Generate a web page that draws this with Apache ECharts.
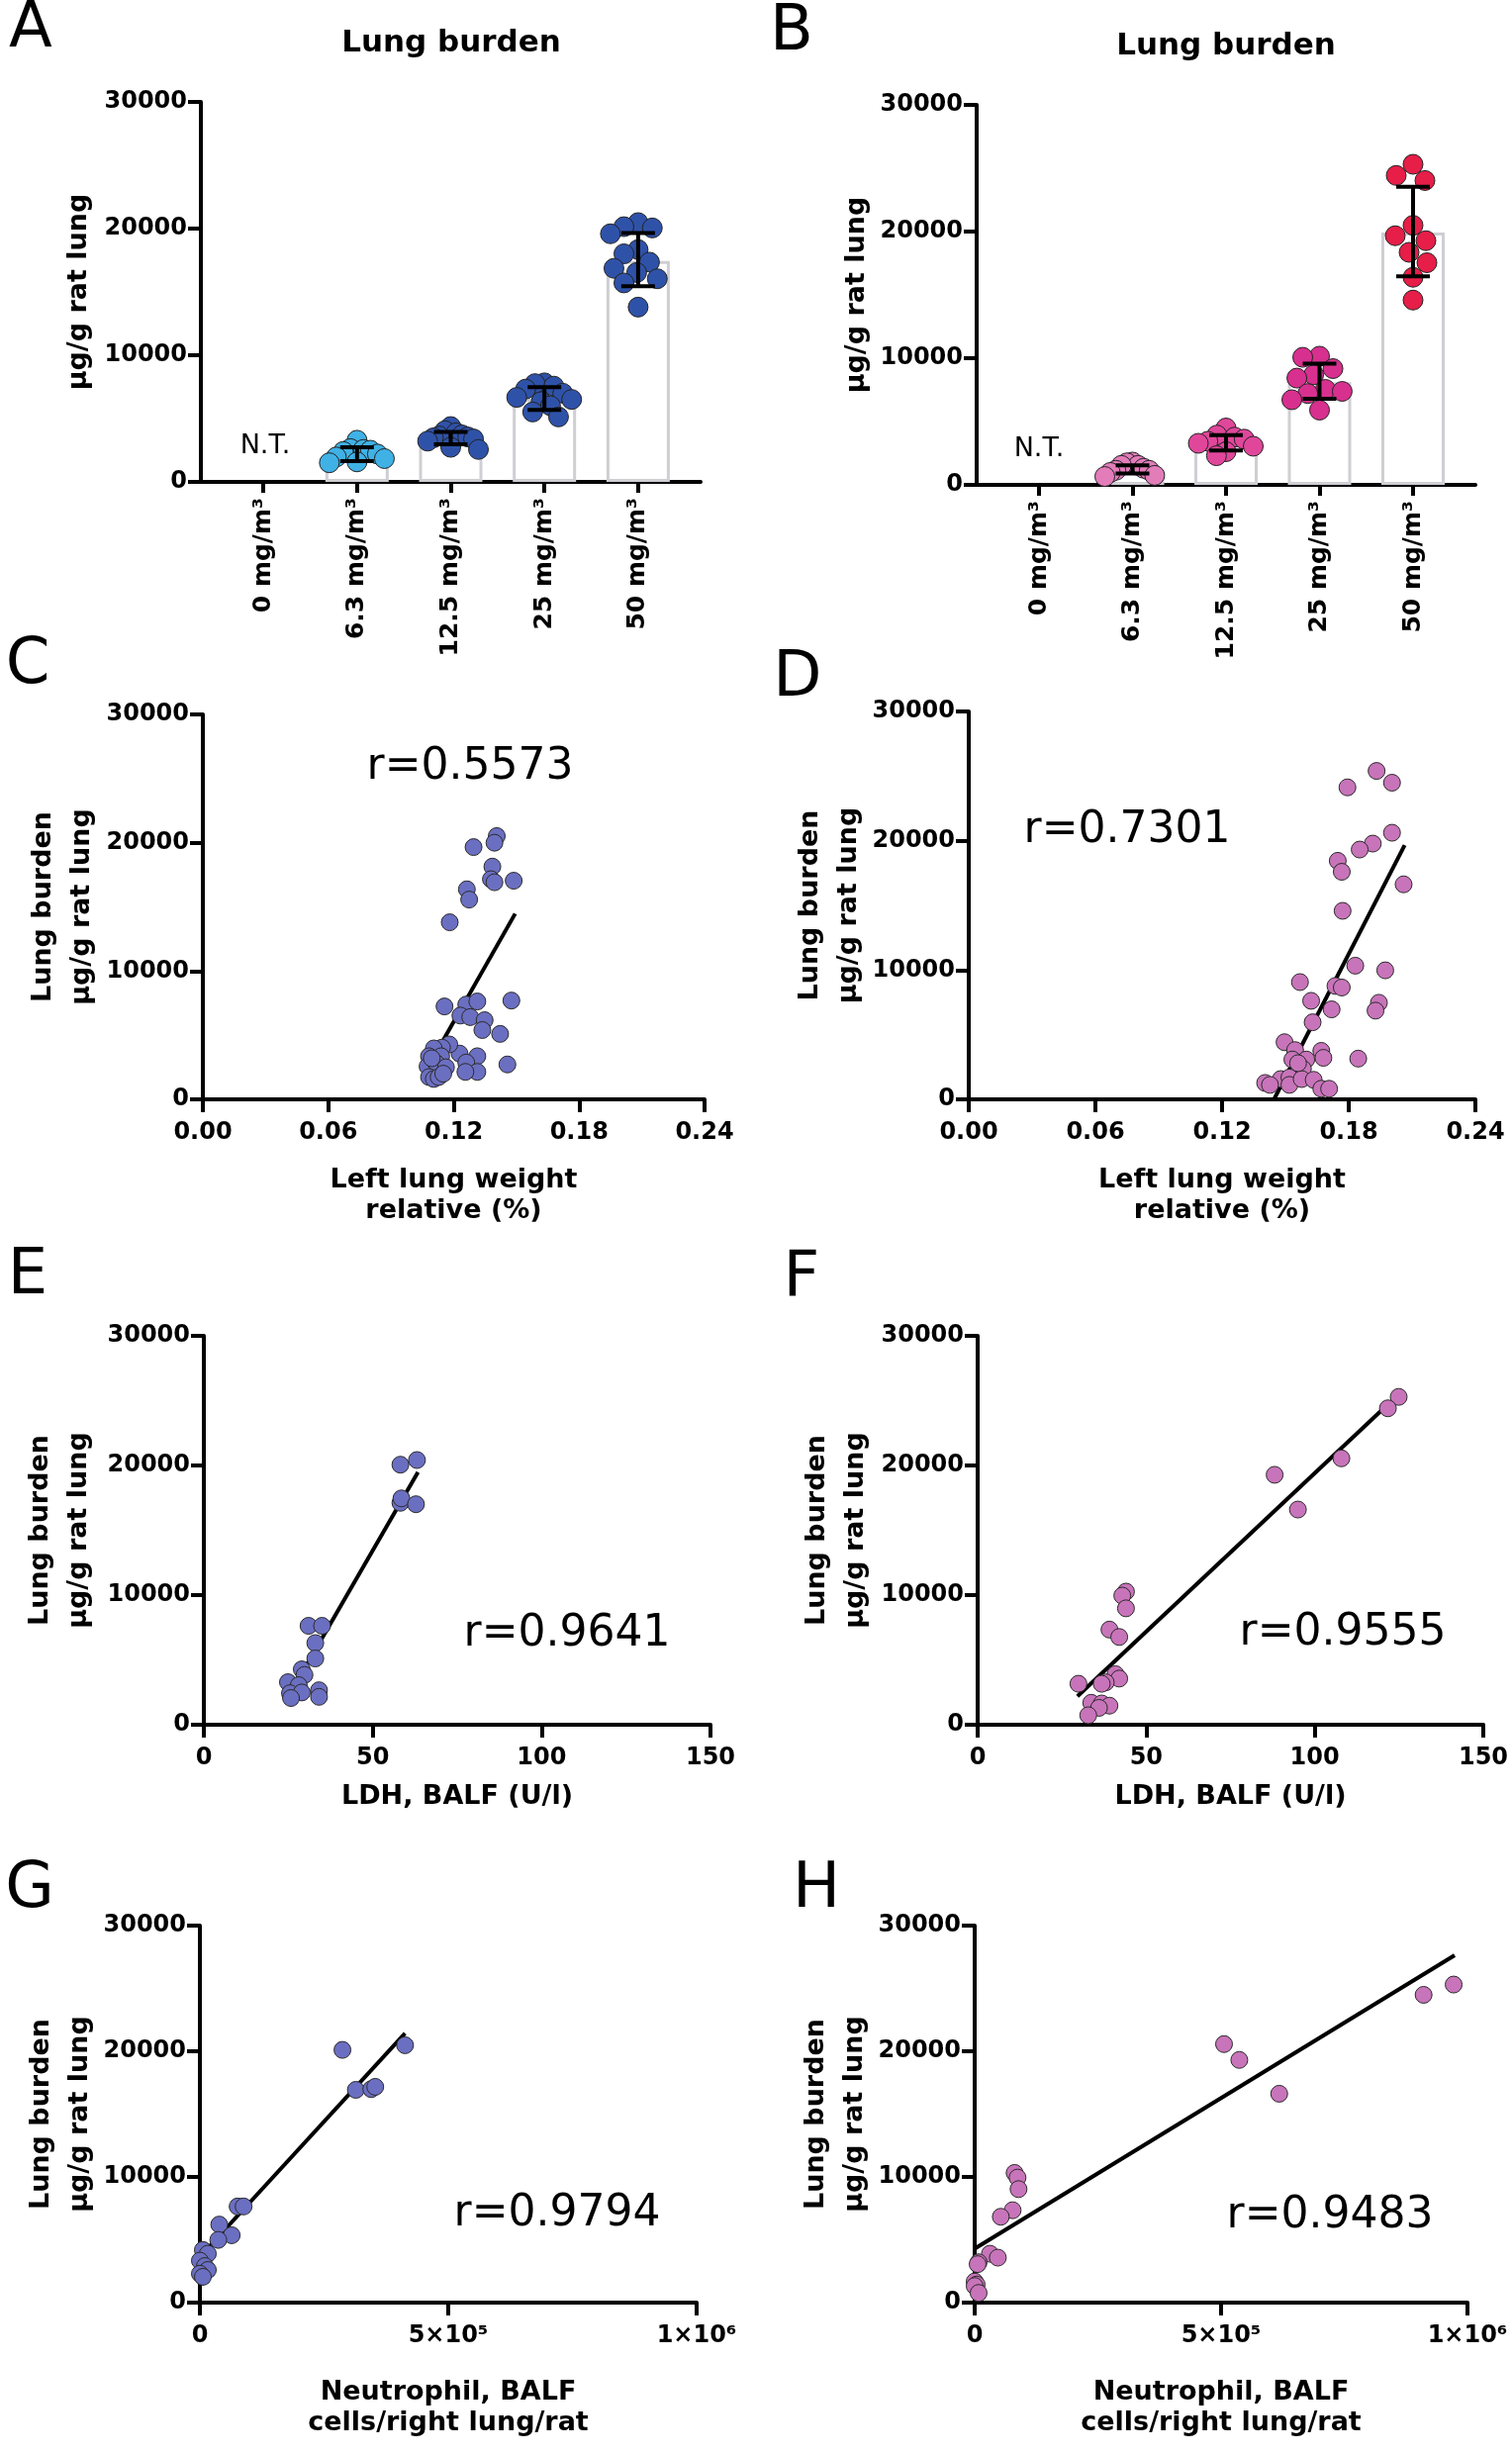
<!DOCTYPE html>
<html><head><meta charset="utf-8">
<script src="https://cdn.jsdelivr.net/npm/echarts@6/dist/echarts.min.js"></script>
<style>html,body{margin:0;padding:0;background:#fff}#c{width:1528px;height:2480px}</style>
</head><body><div id="c"></div>
<script>
// ---------------- DATA ----------------
const doseCategories = ['0 mg/m³', '6.3 mg/m³', '12.5 mg/m³', '25 mg/m³', '50 mg/m³'];
const yTickValues = [0, 10000, 20000, 30000];

// Panel A (bars = mean, error = SD range)
const aMeans   = [null, 2070, 3385, 6570, 17450];
const aErrLow  = [null, 1640, 2960, 5690, 15450];
const aErrHigh = [null, 2730, 3940, 7490, 19650];
const aDose0   = [];
const aDose6   = [3290, 2630, 2560, 2500, 2400, 2200, 1970, 1840, 1580, 1510];
const aDose12  = [4370, 4040, 3880, 3710, 3620, 3550, 3480, 3390, 3220, 2730, 2560];
const aDose25  = [7820, 7760, 7560, 7330, 7000, 6670, 6510, 6340, 6010, 5520, 5130];
const aDose50  = [20470, 20150, 20050, 19590, 18340, 18010, 17350, 16860, 16530, 16040, 15710, 13800];

// Panel B
const bMeans   = [null, 1210, 3180, 8100, 19930];
const bErrLow  = [null, 890, 2720, 6790, 16460];
const bErrHigh = [null, 1540, 3930, 9570, 23540];
const bDose0   = [];
const bDose6   = [1800, 1740, 1540, 1540, 1310, 1150, 1150, 980, 750, 660];
const bDose12  = [4490, 3930, 3770, 3610, 3440, 3280, 3050, 2620, 2300];
const bDose25  = [10160, 10070, 9180, 8690, 8430, 7540, 7380, 7210, 6720, 5900];
const bDose50  = [25310, 24430, 24030, 20490, 19670, 19280, 18360, 17540, 16390, 14590];

// Panel C: [left lung weight relative (%), lung burden]
const cPoints = [[0.1406,20520],[0.1395,20000],[0.1295,19660],[0.1385,18140],[0.1378,17160],[0.1395,16920],[0.1487,17040],[0.1263,16370],[0.1274,15570],[0.1181,13800],[0.1156,7240],[0.1260,7390],[0.1313,7630],[0.1476,7700],[0.1232,6530],[0.1279,6410],[0.1348,6170],[0.1337,5400],[0.1422,5100],[0.1457,2720],[0.1313,3360],[0.1228,3570],[0.1260,2870],[0.1313,2140],[0.1256,2140],[0.1179,4280],[0.1144,4030],[0.1105,3970],[0.1082,3360],[0.1140,3360],[0.1075,2570],[0.1117,2810],[0.1163,2500],[0.1082,1740],[0.1105,1590],[0.1128,1740],[0.1095,3200],[0.1150,2000]];
const cFit = [[0.1075, 2460], [0.1494, 14470]];
const cR = 'r=0.5573';

// Panel D
const dPoints = [[0.1932,25400],[0.2005,24490],[0.1794,24130],[0.2005,20620],[0.1914,19780],[0.1852,19320],[0.1748,18450],[0.1767,17600],[0.2060,16630],[0.1771,14580],[0.1831,10340],[0.1973,9980],[0.1737,8770],[0.1767,8650],[0.1569,9070],[0.1622,7620],[0.1719,6960],[0.1943,7470],[0.1927,6860],[0.1629,5960],[0.1496,4420],[0.1546,3810],[0.1533,3080],[0.1599,3080],[0.1670,3750],[0.1680,3210],[0.1845,3150],[0.1583,2360],[0.1478,1570],[0.1519,1690],[0.1404,1270],[0.1427,1120],[0.1519,1120],[0.1577,1570],[0.1634,1510],[0.1670,820],[0.1707,820],[0.1560,2800]];
const dFit = [[0.1446, 0], [0.2065, 19660]];
const dR = 'r=0.7301';

// Panel E: [LDH BALF (U/l), lung burden]
const ePoints = [[63.1,20420],[58.2,20060],[58.2,17120],[58.5,17460],[62.8,17010],[31.0,7630],[35.0,7630],[33.0,6300],[33.0,5110],[29.0,4270],[29.8,3840],[24.9,3280],[28.1,3050],[25.5,2430],[29.0,2490],[34.1,2660],[34.1,2150],[25.8,2060]];
const eFit = [[30.1, 4460], [63.4, 19490]];
const eR = 'r=0.9641';

// Panel F
const fPoints = [[124.9,25290],[121.7,24410],[107.9,20550],[88.1,19280],[95.0,16600],[44.0,10270],[42.9,9960],[44.0,8980],[39.1,7340],[42.0,6770],[40.9,3900],[42.0,3560],[38.0,3270],[36.8,3160],[29.9,3160],[33.7,1690],[36.8,1640],[39.1,1470],[36.0,1300],[32.8,730]];
const fFit = [[29.6, 2200], [121.7, 24710]];
const fR = 'r=0.9555';

// Panel G: [neutrophils BALF, lung burden]
const gPoints = [[413000,20480],[287000,20110],[314000,16930],[345000,16990],[353000,17170],[76000,7650],[88000,7650],[39000,6210],[64000,5360],[37000,4990],[6000,4190],[16000,3890],[0,3340],[10000,2910],[16000,2600],[0,2300],[6000,2050]];
const gFit = [[0, 3640], [413000, 21430]];
const gR = 'r=0.9794';

// Panel H
const hPoints = [[972000,25310],[911000,24490],[506000,20570],[537000,19310],[618000,16620],[81000,10320],[87000,9950],[89000,9030],[77000,7350],[53000,6830],[31000,3890],[47000,3580],[8000,3210],[6000,3060],[0,1680],[4000,1440],[0,1320],[8000,770]];
const hFit = [[0, 4290], [974000, 27640]];
const hR = 'r=0.9483';

const leftLungTicks = [0, 0.06, 0.12, 0.18, 0.24];
const ldhTicks = [0, 50, 100, 150];
const neutroTickLabels = {0: '0', 500000: '5×10⁵', 1000000: '1×10⁶'};

// ---------------- STYLE / LAYOUT ----------------
const FONT = "'DejaVu Sans', sans-serif";
const COL_A = ['#3FB1E5', '#3FB1E5', '#2F52A9', '#2F52A9', '#2F52A9'];
const COL_B = ['#E27DBA', '#E27DBA', '#E0479B', '#D8308F', '#E61E48'];
const COL_BLUE = '#6B6FC1';
const COL_PINK = '#C874BA';
const NAME_SIZE = 27;

const grids = [
  {left: 203, top: 103, width: 505, height: 384},   // A
  {left: 987, top: 106, width: 504, height: 384},   // B
  {left: 205, top: 722, width: 507, height: 389},   // C
  {left: 979, top: 719, width: 512, height: 392},   // D
  {left: 206, top: 1350, width: 512, height: 393},  // E
  {left: 988, top: 1350, width: 511, height: 393},  // F
  {left: 202, top: 1946, width: 502, height: 381},  // G
  {left: 985, top: 1946, width: 498, height: 381}   // H
];

function baseAxis(idx) {
  return {
    gridIndex: idx,
    axisLine: {show: true, onZero: false, lineStyle: {color: '#000', width: 4}},
    axisTick: {show: true, length: 13, lineStyle: {color: '#000', width: 4}},
    splitLine: {show: false},
    nameTextStyle: {fontFamily: FONT, fontWeight: 'bold', fontSize: NAME_SIZE, color: '#000', lineHeight: 39}
  };
}

function yAx(idx, name, gap) {
  return Object.assign(baseAxis(idx), {
    type: 'value', min: 0, max: 30000, interval: 10000,
    name: name, nameLocation: 'middle', nameGap: gap, nameRotate: 90,
    axisLabel: {fontFamily: FONT, fontWeight: 'bold', fontSize: 24, color: '#000', margin: 14,
      formatter: v => yTickValues.indexOf(v) >= 0 ? String(v) : ''}
  });
}

function catXAx(idx) {
  const ticks = doseCategories.map((c, i) => i);
  const a = Object.assign(baseAxis(idx), {
    type: 'value', min: -2 / 3, max: 14 / 3,
    axisLabel: {fontFamily: FONT, fontWeight: 'bold', fontSize: 25, color: '#000', margin: 16, rotate: 90,
      customValues: ticks, formatter: v => doseCategories[Math.round(v)] || ''}
  });
  a.axisTick = {show: true, length: 11, customValues: ticks, lineStyle: {color: '#000', width: 4}};
  return a;
}

function valXAx(idx, min, max, interval, fmt, name, gap) {
  return Object.assign(baseAxis(idx), {
    type: 'value', min: min, max: max, interval: interval,
    name: name, nameLocation: 'middle', nameGap: gap,
    nameTextStyle: {fontFamily: FONT, fontWeight: 'bold', fontSize: NAME_SIZE, color: '#000', lineHeight: 31},
    axisLabel: {fontFamily: FONT, fontWeight: 'bold', fontSize: 24, color: '#000', margin: 22, formatter: fmt, showMinLabel: true, showMaxLabel: true}
  });
}

// beeswarm (non-overlapping), then compressed to the dot-plot width
function swarm(values, unitPx, valPx, diam, maxHalf) {
  const placed = [];
  const px = new Array(values.length).fill(0);
  const order = values.map((v, i) => i).sort((a, b) => values[b] - values[a]);
  order.forEach(i => {
    const y = values[i] * valPx;
    let chosen = 0;
    for (let k = 0; k < 600; k++) {
      const cand = (k % 2 === 0 ? 1 : -1) * Math.ceil(k / 2);
      let ok = true;
      for (const p of placed) {
        const dx = cand - p.x, dy = y - p.y;
        if (dx * dx + dy * dy < diam * diam) { ok = false; break; }
      }
      if (ok) { chosen = cand; break; }
    }
    placed.push({x: chosen, y: y});
    px[i] = chosen;
  });
  const m = Math.max.apply(null, px.map(Math.abs));
  const k = m > maxHalf ? maxHalf / m : 1;
  return px.map(p => p * k / unitPx);
}

function barPanel(idx, means, lows, highs, groups, colors) {
  const g = grids[idx];
  const unitPx = g.width / (16 / 3);
  const valPx = g.height / 30000;
  const s = [];
  s.push({
    type: 'bar', xAxisIndex: idx, yAxisIndex: idx, barWidth: 64, silent: true, z: 2,
    data: means.map((m, i) => m == null ? null : [i, m]).filter(Boolean),
    itemStyle: {color: '#ffffff', borderColor: '#CFCFD3', borderWidth: 3}
  });
  groups.forEach((vals, i) => {
    if (!vals.length) return;
    const offs = swarm(vals, unitPx, valPx, 20, 28);
    s.push({
      type: 'scatter', xAxisIndex: idx, yAxisIndex: idx, symbolSize: 20, z: 3,
      data: vals.map((v, j) => [i + offs[j], v]),
      itemStyle: {color: colors[i], borderColor: '#222', borderWidth: 1, opacity: 1}
    });
  });
  s.push({
    type: 'custom', xAxisIndex: idx, yAxisIndex: idx, z: 4, silent: true,
    encode: {x: 0, y: [1, 2]},
    data: means.map((m, i) => m == null ? null : [i, lows[i], highs[i]]).filter(Boolean),
    renderItem: (params, api) => {
      const x = api.value(0);
      const lo = api.coord([x, api.value(1)]);
      const hi = api.coord([x, api.value(2)]);
      const hw = 17;
      const st = {stroke: '#000', lineWidth: 4};
      return {type: 'group', children: [
        {type: 'line', shape: {x1: lo[0], y1: lo[1], x2: hi[0], y2: hi[1]}, style: st},
        {type: 'line', shape: {x1: lo[0] - hw, y1: lo[1], x2: lo[0] + hw, y2: lo[1]}, style: st},
        {type: 'line', shape: {x1: hi[0] - hw, y1: hi[1], x2: hi[0] + hw, y2: hi[1]}, style: st}
      ]};
    }
  });
  return s;
}

function scatterPanel(idx, pts, fit, color) {
  return [
    {type: 'line', xAxisIndex: idx, yAxisIndex: idx, data: fit, symbol: 'none', silent: true, z: 2,
      lineStyle: {color: '#000', width: 4}},
    {type: 'scatter', xAxisIndex: idx, yAxisIndex: idx, data: pts, symbolSize: 17, z: 3,
      itemStyle: {color: color, borderColor: '#2a2a2a', borderWidth: 1, opacity: 1}}
  ];
}

const YNAME1 = 'µg/g rat lung';
const YNAME2 = 'Lung burden\nµg/g rat lung';
const XC = 'Left lung weight\nrelative (%)';
const XE = 'LDH, BALF (U/l)';
const XG = 'Neutrophil, BALF\ncells/right lung/rat';

const fmtLung = v => leftLungTicks.indexOf(+v.toFixed(2)) >= 0 ? v.toFixed(2) : '';
const fmtLdh = v => String(v);
const fmtNeu = v => neutroTickLabels[v] !== undefined ? neutroTickLabels[v] : '';

const xAxes = [
  catXAx(0), catXAx(1),
  valXAx(2, 0, 0.24, 0.06, fmtLung, XC, 66),
  valXAx(3, 0, 0.24, 0.06, fmtLung, XC, 66),
  valXAx(4, 0, 150, 50, fmtLdh, XE, 57),
  valXAx(5, 0, 150, 50, fmtLdh, XE, 57),
  valXAx(6, 0, 1000000, 500000, fmtNeu, XG, 75),
  valXAx(7, 0, 1000000, 500000, fmtNeu, XG, 75)
];
const yAxes = [
  yAx(0, YNAME1, 104), yAx(1, YNAME1, 102),
  yAx(2, YNAME2, 103), yAx(3, YNAME2, 99),
  yAx(4, YNAME2, 107), yAx(5, YNAME2, 104),
  yAx(6, YNAME2, 101), yAx(7, YNAME2, 101)
];

const series = [].concat(
  barPanel(0, aMeans, aErrLow, aErrHigh, [aDose0, aDose6, aDose12, aDose25, aDose50], COL_A),
  barPanel(1, bMeans, bErrLow, bErrHigh, [bDose0, bDose6, bDose12, bDose25, bDose50], COL_B),
  scatterPanel(2, cPoints, cFit, COL_BLUE),
  scatterPanel(3, dPoints, dFit, COL_PINK),
  scatterPanel(4, ePoints, eFit, COL_BLUE),
  scatterPanel(5, fPoints, fFit, COL_PINK),
  scatterPanel(6, gPoints, gFit, COL_BLUE),
  scatterPanel(7, hPoints, hFit, COL_PINK)
);

function txt(text, x, y, font) {
  return {type: 'text', x: x, y: y, silent: true, z: 10,
    style: {text: text, font: font, fill: '#000', textAlign: 'center', textVerticalAlign: 'middle'}};
}
const LETTER = "normal 64px 'DejaVu Sans', sans-serif";
const TITLE = "bold 31px 'DejaVu Sans', sans-serif";
const RFONT = "normal 44px 'DejaVu Sans', sans-serif";
const NT = "normal 27px 'DejaVu Sans', sans-serif";

const graphics = [
  txt('A', 31, 30, LETTER), txt('B', 800, 33, LETTER),
  txt('C', 28, 673, LETTER), txt('D', 806, 686, LETTER),
  txt('E', 28, 1290, LETTER), txt('F', 810, 1292, LETTER),
  txt('G', 30, 1910, LETTER), txt('H', 825, 1910, LETTER),
  txt('Lung burden', 456, 44, TITLE), txt('Lung burden', 1239, 47, TITLE),
  txt('N.T.', 268, 451, NT), txt('N.T.', 1050, 454, NT),
  txt(cR, 475, 776, RFONT), txt(dR, 1139, 840, RFONT),
  txt(eR, 573, 1652, RFONT), txt(fR, 1357, 1651, RFONT),
  txt(gR, 563, 2238, RFONT), txt(hR, 1344, 2240, RFONT)
];

const chart = echarts.init(document.getElementById('c'), null, {renderer: 'canvas'});
chart.setOption({
  animation: false,
  backgroundColor: '#ffffff',
  grid: grids,
  xAxis: xAxes,
  yAxis: yAxes,
  series: series,
  graphic: graphics
});
</script>
</body></html>
